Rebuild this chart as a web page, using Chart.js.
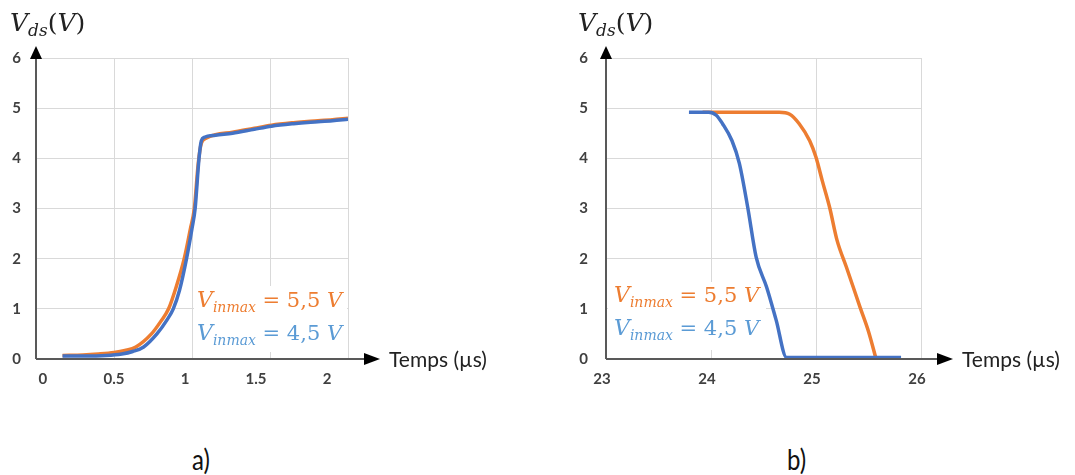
<!DOCTYPE html>
<html>
<head>
<meta charset="utf-8">
<script src="https://cdn.jsdelivr.net/npm/chart.js@4.4.1/dist/chart.umd.min.js"></script>
<style>
    body { margin: 0; background: #fff; }
    #wrap { position: relative; width: 1075px; height: 475px; overflow: hidden; }
    .box { position: absolute; top: 0; height: 400px; }
    .cap { position: absolute; top: 441px; font: 24px Lato, "Open Sans", sans-serif; color: #111;
           transform: scaleY(1.2); transform-origin: top left; }
</style>
</head>
<body>
<div id="wrap">
    <div class="box" style="left:0;width:540px"><canvas id="chartA"></canvas></div>
    <div class="box" style="left:540px;width:535px"><canvas id="chartB"></canvas></div>
    <div class="cap" style="left:192px">a)</div>
    <div class="cap" style="left:787px">b)</div>
</div>
<script>
// a) montée de Vds (temps en µs, tension en V)
const tA55 = [0.17, 0.3, 0.4, 0.5, 0.57, 0.64, 0.74, 0.8, 0.85, 0.9, 0.95, 0.99, 1.015, 1.04, 1.06, 1.09, 1.15, 1.26, 1.4, 1.51, 1.65, 1.76, 1.9, 2.0];
const vA55 = [0.07, 0.08, 0.1, 0.13, 0.17, 0.24, 0.5, 0.75, 1.0, 1.45, 2.0, 2.6, 3.0, 3.9, 4.3, 4.4, 4.47, 4.52, 4.6, 4.66, 4.71, 4.74, 4.77, 4.8];
const tA45 = [0.17, 0.3, 0.45, 0.55, 0.62, 0.69, 0.775, 0.84, 0.88, 0.92, 0.965, 1.0, 1.02, 1.045, 1.06, 1.08, 1.15, 1.26, 1.4, 1.51, 1.65, 1.76, 1.9, 2.0];
const vA45 = [0.06, 0.06, 0.07, 0.1, 0.15, 0.24, 0.5, 0.78, 1.0, 1.37, 2.0, 2.6, 3.0, 4.0, 4.35, 4.42, 4.46, 4.5, 4.58, 4.64, 4.69, 4.72, 4.75, 4.78];

// b) descente de Vds
const tB55 = [23.92, 24.3, 24.65, 24.75, 24.84, 24.94, 25.0, 25.06, 25.13, 25.2, 25.29, 25.42, 25.5, 25.57];
const vB55 = [4.92, 4.92, 4.92, 4.88, 4.69, 4.35, 4.02, 3.55, 3.02, 2.37, 1.83, 1.03, 0.55, 0.02];
const tB45 = [23.79, 23.98, 24.05, 24.11, 24.2, 24.27, 24.35, 24.43, 24.53, 24.62, 24.72, 25.0, 25.4, 25.81];
const vB45 = [4.92, 4.92, 4.86, 4.69, 4.35, 3.9, 3.02, 2.03, 1.43, 0.78, 0.03, 0.03, 0.03, 0.03];

const xTicksA = [0, 0.5, 1, 1.5, 2];
const xTicksB = [23, 24, 25, 26];
const yTicks = [0, 1, 2, 3, 4, 5, 6];
const seriesNames = ['5,5 V', '4,5 V'];

const orange = '#ED7D31';
const blue = '#4472C4';
const blueText = '#5B9BD5';
const gridColor = '#d9d9d9';
const tickFont = {family: 'Lato, "Open Sans", sans-serif', size: 15, weight: 'bold'};
const tickColor = '#404040';

function points(t, v) {
    return t.map((x, i) => ({x: x, y: v[i]}));
}

// texte "V" avec indice, style Cambria Math
function drawRuns(ctx, x, y, runs, color) {
    ctx.fillStyle = color;
    ctx.textBaseline = 'alphabetic';
    ctx.textAlign = 'left';
    runs.forEach(r => {
        ctx.font = r.font;
        ctx.fillText(r.t, x, y + (r.dy || 0));
        x += ctx.measureText(r.t).width;
    });
}

function noteRuns(name) {
    return [
        {t: 'V', font: 'italic 22px "DejaVu Serif", serif'},
        {t: 'inmax', font: 'italic 14px "DejaVu Serif", serif', dy: 5},
        {t: ' = ' + name.replace(' V', ' '), font: '21px "DejaVu Serif", serif'},
        {t: 'V', font: 'italic 21px "DejaVu Serif", serif'}
    ];
}

const overlay = {
    id: 'overlay',
    beforeDatasetsDraw(chart, args, opts) {
        const ctx = chart.ctx;
        ctx.save();
        ctx.fillStyle = '#fff';
        ctx.fillRect(opts.box[0], opts.box[1], opts.box[2], opts.box[3]);
        drawRuns(ctx, opts.noteX, opts.noteY, noteRuns(seriesNames[0]), orange);
        drawRuns(ctx, opts.noteX, opts.noteY + 33, noteRuns(seriesNames[1]), blueText);
        ctx.restore();
    },
    afterDraw(chart, args, opts) {
        const ctx = chart.ctx;
        const a = chart.chartArea;
        ctx.save();
        // axes avec flèches
        ctx.strokeStyle = '#595959';
        ctx.lineWidth = 2;
        ctx.beginPath();
        ctx.moveTo(a.left, a.bottom);
        ctx.lineTo(a.left, a.top - 3);
        ctx.moveTo(a.left, a.bottom);
        ctx.lineTo(a.right + 18, a.bottom);
        ctx.stroke();
        ctx.fillStyle = '#000';
        ctx.beginPath();
        ctx.moveTo(a.left, a.top - 12);
        ctx.lineTo(a.left - 6, a.top + 1);
        ctx.lineTo(a.left + 6, a.top + 1);
        ctx.closePath();
        ctx.fill();
        ctx.beginPath();
        ctx.moveTo(a.right + 32, a.bottom);
        ctx.lineTo(a.right + 16, a.bottom - 6);
        ctx.lineTo(a.right + 16, a.bottom + 6);
        ctx.closePath();
        ctx.fill();

        ctx.font = '21px Lato, "Open Sans", sans-serif';
        ctx.fillStyle = '#222';
        ctx.textBaseline = 'middle';
        ctx.fillText('Temps (µs)', a.right + 41, a.bottom + 1);

        drawRuns(ctx, opts.titleX, 31, [
            {t: 'V', font: 'italic 25px "DejaVu Serif", serif'},
            {t: 'ds', font: 'italic 17px "DejaVu Serif", serif', dy: 5},
            {t: '(', font: '25px "DejaVu Serif", serif'},
            {t: 'V', font: 'italic 25px "DejaVu Serif", serif'},
            {t: ')', font: '25px "DejaVu Serif", serif'}
        ], '#222');
        ctx.restore();
    }
};

function yScale(width, pad) {
    return {
        min: 0, max: 6,
        grid: {color: gridColor, drawTicks: false, tickLength: 0},
        border: {display: false},
        ticks: {font: tickFont, color: tickColor, padding: pad},
        afterBuildTicks: s => { s.ticks = yTicks.map(v => ({value: v})); },
        afterFit: s => { s.width = width; }
    };
}

// la courbe bleue est dessinée par-dessus l'orange (index 0 = au premier plan)
function datasets(t55, v55, t45, v45) {
    return [
        {label: seriesNames[1], data: points(t45, v45), borderColor: blue, borderWidth: 3.5,
         pointRadius: 0, cubicInterpolationMode: 'monotone'},
        {label: seriesNames[0], data: points(t55, v55), borderColor: orange, borderWidth: 3.5,
         pointRadius: 0, cubicInterpolationMode: 'monotone'}
    ];
}

new Chart(document.getElementById('chartA'), {
    type: 'line',
    data: {datasets: datasets(tA55, vA55, tA45, vA45)},
    options: {
        responsive: true,
        maintainAspectRatio: false,
        animation: false,
        layout: {padding: {top: 58, right: 192, left: 0, bottom: 0}},
        plugins: {
            legend: {display: false},
            tooltip: {enabled: false},
            overlay: {box: [194, 286, 153, 66], noteX: 197, noteY: 307, titleX: 10}
        },
        scales: {
            x: {
                type: 'linear', min: 0, max: 2, position: 'bottom',
                grid: {color: gridColor, drawTicks: false, tickLength: 0},
                border: {display: false},
                ticks: {display: false, stepSize: 0.5},
                afterFit: s => { s.height = 0; }
            },
            // graduations dessinées sur la figure, légèrement décalées de la grille
            xLab: {
                type: 'linear', min: -0.049, max: 2.147, position: 'bottom',
                grid: {display: false, drawTicks: false, tickLength: 0},
                border: {display: false},
                ticks: {font: tickFont, color: tickColor, padding: 11, maxRotation: 0, autoSkip: false,
                        callback: v => String(v)},
                afterBuildTicks: s => { s.ticks = xTicksA.map(v => ({value: v})); },
                afterFit: s => { s.height = 41; }
            },
            y: yScale(36, 15)
        }
    },
    plugins: [overlay]
});

new Chart(document.getElementById('chartB'), {
    type: 'line',
    data: {datasets: datasets(tB55, vB55, tB45, vB45)},
    options: {
        responsive: true,
        maintainAspectRatio: false,
        animation: false,
        layout: {padding: {top: 58, right: 154, left: 0, bottom: 0}},
        plugins: {
            legend: {display: false},
            tooltip: {enabled: false},
            overlay: {box: [68, 282, 158, 68], noteX: 74, noteY: 302, titleX: 38}
        },
        scales: {
            x: {
                type: 'linear', min: 23, max: 26, position: 'bottom',
                grid: {color: gridColor, drawTicks: false, tickLength: 0},
                border: {display: false},
                ticks: {font: tickFont, color: tickColor, padding: 11, maxRotation: 0, labelOffset: -4},
                afterBuildTicks: s => { s.ticks = xTicksB.map(v => ({value: v})); },
                afterFit: s => { s.height = 41; }
            },
            y: yScale(66, 18)
        }
    },
    plugins: [overlay]
});
</script>
</body>
</html>
